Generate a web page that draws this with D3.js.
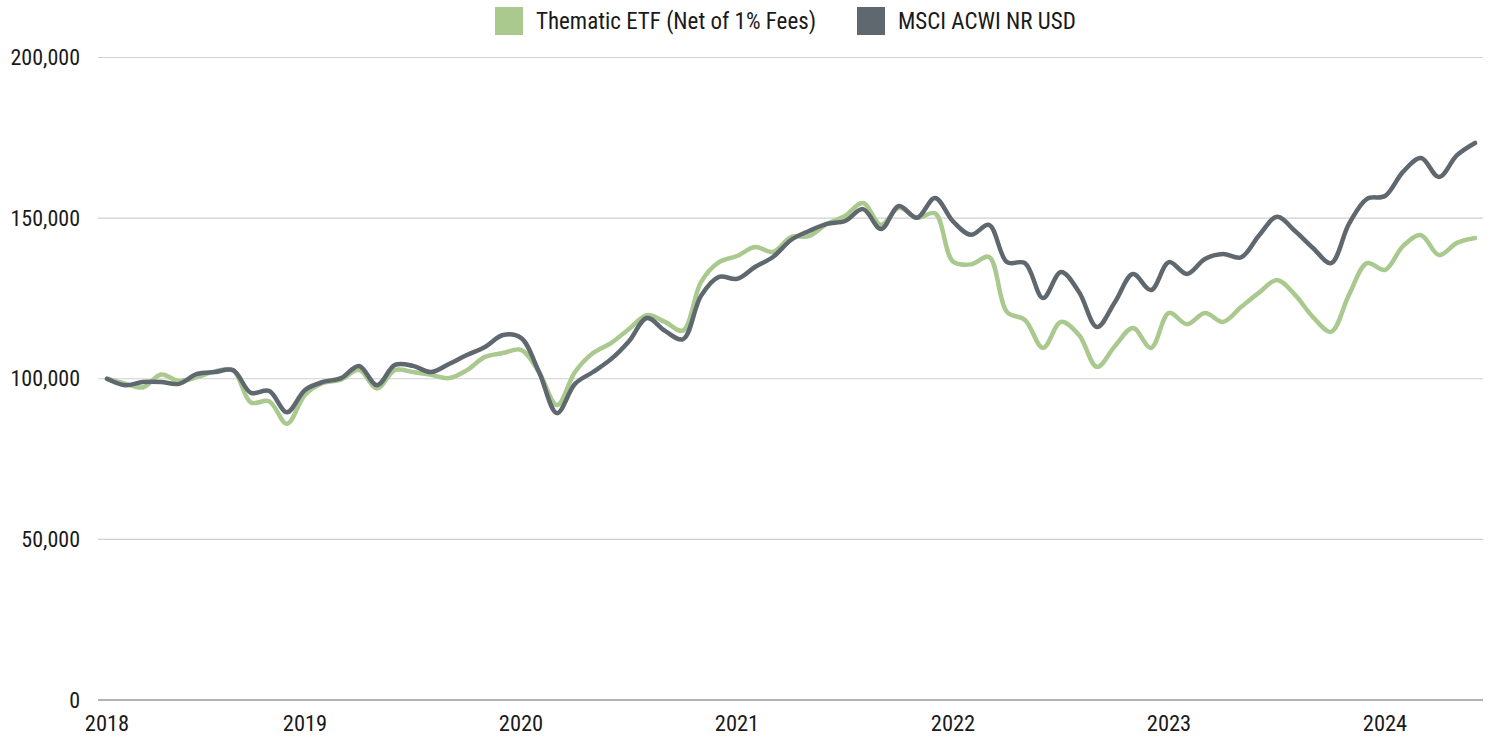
<!DOCTYPE html>
<html>
<head>
<meta charset="utf-8">
<script src="https://cdn.jsdelivr.net/npm/d3@7"></script>
<style>
  html, body { margin: 0; padding: 0; background: #ffffff; }
  svg { display: block; }
  text { font-family: "Roboto Condensed", Roboto, "Liberation Sans Narrow", sans-serif; fill: #1a1a1a; }
</style>
</head>
<body>
<svg id="chart" width="1494" height="740"></svg>
<script>
// ---- data ----
const seriesNames = ["Thematic ETF (Net of 1% Fees)", "MSCI ACWI NR USD"];
const seriesColors = ["#a9c98f", "#5f686e"];

const thematic = [
  100000, 98500, 97300, 101300, 99300, 100500, 102300, 102600, 92600, 93000, 86000,
  95000, 98700, 99700, 102800, 97000, 102700, 102100, 101200, 100200, 102700, 106800, 108000,
  109000, 102100, 91800, 102100, 108000, 111100, 115500, 119800, 117700, 115000, 130100, 136300,
  138200, 141000, 139500, 144100, 144400, 148200, 150700, 154700, 147900, 153200, 150100, 151500,
  136500, 135600, 137900, 120800, 118300, 109600, 117700, 113600, 103700, 110200, 115800, 109600,
  120500, 117000, 120500, 117700, 122300, 126800, 130700, 126100, 119200, 114600, 126100, 136000,
  133900, 141300, 144700, 138500, 142300, 143800
];

const msci = [
  100000, 98000, 99000, 99000, 98400, 101500, 102100, 102700, 95600, 96200, 89600,
  96500, 99000, 100200, 104000, 98000, 104300, 104000, 102100, 104600, 107400, 109900, 113600,
  112700, 102100, 89300, 98400, 102100, 106100, 111700, 118900, 114900, 112300, 125800, 131700,
  131100, 134800, 137900, 143200, 146000, 148200, 149100, 152800, 146600, 153800, 150100, 156300,
  149000, 144800, 147900, 136300, 136000, 125100, 133200, 127000, 116100, 123900, 132600, 127600,
  136300, 132600, 137300, 138800, 137800, 144600, 150400, 146000, 140700, 136000, 148200, 156000,
  156900, 164400, 168700, 162800, 169600, 173400
];

// monthly categories: Feb 2018 .. Jun 2024
const months = d3.timeMonth.range(new Date(2018, 1, 1), new Date(2024, 6, 1)).map(d3.timeFormat("%Y-%m"));

const xTickKeys = ["2018-02", "2019-01", "2020-01", "2021-01", "2022-01", "2023-01", "2024-01"];
const xTickLabels = ["2018", "2019", "2020", "2021", "2022", "2023", "2024"];
const yTicks = [0, 50000, 100000, 150000, 200000];

// ---- layout ----
const svg = d3.select("#chart");
const gridLeft = 98, gridRight = 1483;
const x = d3.scalePoint().domain(months).range([107, 1475]);
const y = d3.scaleLinear().domain([0, 200000]).range([700, 57.5]);

// gridlines
svg.append("g").selectAll("line").data(yTicks.filter(v => v > 0)).join("line")
  .attr("x1", gridLeft).attr("x2", gridRight)
  .attr("y1", d => y(d)).attr("y2", d => y(d))
  .attr("stroke", "#d0d0d0").attr("stroke-width", 1.2);

// baseline
svg.append("line")
  .attr("x1", gridLeft).attr("x2", gridRight)
  .attr("y1", y(0)).attr("y2", y(0))
  .attr("stroke", "#9a9a9a").attr("stroke-width", 1.6);

// y axis labels
const fmt = d3.format(",");
svg.append("g").selectAll("text").data(yTicks).join("text")
  .attr("x", 80).attr("y", d => y(d))
  .attr("dy", "0.35em")
  .attr("text-anchor", "end")
  .style("font-size", "22px")
  .text(d => fmt(d));

// x axis labels
svg.append("g").selectAll("text").data(xTickKeys).join("text")
  .attr("x", d => x(d)).attr("y", 731)
  .attr("text-anchor", "middle")
  .style("font-size", "22.5px")
  .text((d, i) => xTickLabels[i]);

// lines
const line = d3.line()
  .x((d, i) => x(months[i]))
  .y(d => y(d))
  .curve(d3.curveCatmullRom.alpha(0.5));

[thematic, msci].forEach((s, k) => {
  svg.append("path")
    .datum(s)
    .attr("d", line)
    .attr("fill", "none")
    .attr("stroke", seriesColors[k])
    .attr("stroke-width", 4.5)
    .attr("stroke-linejoin", "round")
    .attr("stroke-linecap", "round");
});

// legend
const legendX = [495, 857];
const lg = svg.append("g");
seriesNames.forEach((name, k) => {
  lg.append("rect")
    .attr("x", legendX[k]).attr("y", 7)
    .attr("width", 28).attr("height", 28)
    .attr("fill", seriesColors[k]);
  lg.append("text")
    .attr("x", legendX[k] + 41).attr("y", 21)
    .attr("dy", "0.35em")
    .style("font-size", "23px")
    .text(name);
});
</script>
</body>
</html>
